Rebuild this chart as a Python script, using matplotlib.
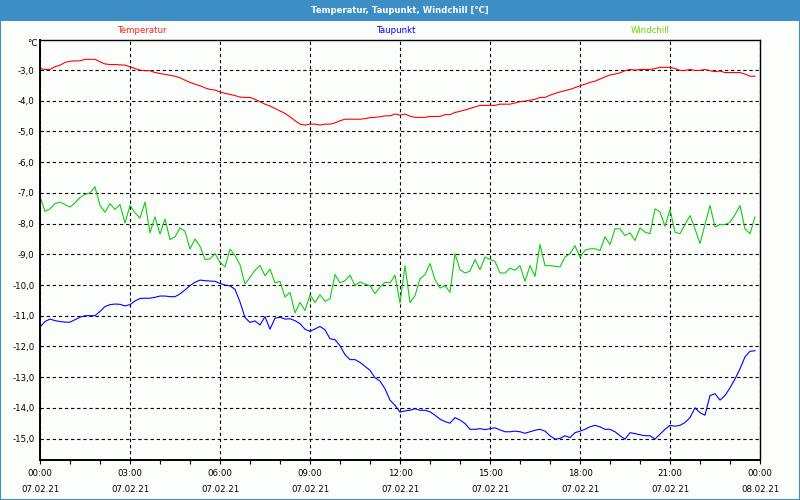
import numpy as np
import matplotlib
matplotlib.use("Agg")
import matplotlib.pyplot as plt
from matplotlib.patches import Rectangle

# Messwerte alle 10 Minuten, 07.02.21 00:00 bis 23:50
temperatur = [
    -2.95, -2.98, -2.98, -2.89, -2.84, -2.75, -2.71, -2.70, -2.70, -2.65, -2.65, -2.65,
    -2.73, -2.80, -2.82, -2.82, -2.83, -2.84, -2.89, -2.95, -3.00, -3.02, -3.02, -3.08,
    -3.11, -3.14, -3.17, -3.20, -3.25, -3.33, -3.40, -3.46, -3.51, -3.58, -3.63, -3.65,
    -3.71, -3.76, -3.79, -3.83, -3.88, -3.89, -3.89, -3.95, -4.03, -4.11, -4.17, -4.25,
    -4.33, -4.41, -4.52, -4.65, -4.76, -4.79, -4.76, -4.76, -4.79, -4.76, -4.76, -4.72,
    -4.65, -4.60, -4.60, -4.60, -4.60, -4.58, -4.55, -4.54, -4.52, -4.49, -4.49, -4.43,
    -4.47, -4.43, -4.50, -4.54, -4.54, -4.54, -4.51, -4.51, -4.51, -4.45, -4.45, -4.38,
    -4.34, -4.30, -4.25, -4.20, -4.15, -4.15, -4.15, -4.15, -4.11, -4.11, -4.11, -4.07,
    -4.03, -4.01, -3.98, -3.95, -3.89, -3.89, -3.82, -3.76, -3.71, -3.67, -3.63, -3.57,
    -3.51, -3.46, -3.40, -3.36, -3.29, -3.22, -3.16, -3.13, -3.09, -3.02, -2.98, -3.00,
    -2.98, -2.98, -2.98, -2.95, -2.91, -2.91, -2.91, -2.95, -3.01, -3.01, -2.98, -3.01,
    -3.01, -2.98, -3.02, -3.05, -3.03, -3.08, -3.08, -3.08, -3.08, -3.13, -3.20, -3.20,
]
taupunkt = [
    -11.37, -11.19, -11.11, -11.16, -11.19, -11.21, -11.21, -11.13, -11.05, -11.00, -11.00, -11.00,
    -10.86, -10.70, -10.64, -10.62, -10.63, -10.68, -10.64, -10.52, -10.44, -10.43, -10.43, -10.40,
    -10.36, -10.36, -10.38, -10.38, -10.29, -10.16, -10.02, -9.91, -9.84, -9.86, -9.87, -9.88,
    -9.95, -10.00, -10.03, -10.14, -10.55, -11.06, -11.22, -11.17, -11.30, -11.03, -11.44, -11.08,
    -11.05, -11.11, -11.10, -11.16, -11.26, -11.44, -11.51, -11.43, -11.35, -11.46, -11.75, -11.78,
    -11.98, -12.27, -12.43, -12.43, -12.52, -12.65, -12.78, -13.02, -13.13, -13.38, -13.75, -13.92,
    -14.14, -14.10, -14.08, -14.03, -14.08, -14.08, -14.13, -14.24, -14.37, -14.45, -14.50, -14.32,
    -14.40, -14.51, -14.70, -14.70, -14.68, -14.71, -14.68, -14.65, -14.72, -14.78, -14.78, -14.76,
    -14.78, -14.83, -14.78, -14.73, -14.70, -14.76, -14.91, -15.02, -15.00, -14.91, -14.97, -14.81,
    -14.76, -14.70, -14.62, -14.57, -14.62, -14.70, -14.70, -14.78, -14.91, -15.02, -14.81, -14.84,
    -14.88, -14.91, -14.91, -15.02, -14.86, -14.70, -14.57, -14.60, -14.57, -14.48, -14.32, -14.00,
    -14.16, -14.24, -13.60, -13.54, -13.75, -13.60, -13.35, -13.06, -12.73, -12.34, -12.16, -12.14,
]
windchill = [
    -7.11, -7.60, -7.52, -7.35, -7.30, -7.38, -7.46, -7.33, -7.15, -7.05, -7.00, -6.80,
    -7.41, -7.63, -7.35, -7.54, -7.38, -7.98, -7.41, -7.65, -7.82, -7.30, -8.30, -7.78,
    -8.34, -7.85, -8.52, -8.43, -8.14, -8.25, -8.83, -8.50, -8.74, -9.17, -9.15, -8.98,
    -9.26, -9.41, -8.83, -9.04, -9.34, -9.97, -9.75, -9.52, -9.36, -9.70, -9.48, -9.93,
    -9.88, -10.39, -10.24, -10.91, -10.57, -10.83, -10.32, -10.57, -10.32, -10.53, -10.45, -9.66,
    -9.93, -9.86, -9.68, -10.02, -9.90, -9.97, -10.02, -10.28, -10.07, -9.91, -9.93, -9.68,
    -10.59, -9.37, -10.57, -10.35, -9.80, -9.66, -9.30, -9.83, -10.10, -10.02, -10.24, -8.98,
    -9.50, -9.61, -9.55, -9.17, -9.50, -9.09, -9.17, -9.23, -9.61, -9.61, -9.45, -9.52,
    -9.37, -9.88, -9.37, -9.72, -8.68, -9.37, -9.37, -9.39, -9.41, -9.09, -8.98, -8.72,
    -9.09, -8.87, -8.82, -8.82, -8.88, -8.43, -8.68, -8.17, -8.17, -8.39, -8.30, -8.55,
    -8.14, -8.28, -8.33, -7.52, -7.62, -8.09, -7.54, -8.28, -8.33, -8.03, -7.74, -8.17,
    -8.65, -8.03, -7.41, -8.11, -8.03, -8.03, -7.96, -7.71, -7.41, -8.17, -8.33, -7.78,
]
stunden = np.arange(len(temperatur)) / 6.0

x_ticks = [0, 3, 6, 9, 12, 15, 18, 21, 24]
x_labels = ["00:00\n07.02.21", "03:00\n07.02.21", "06:00\n07.02.21", "09:00\n07.02.21",
            "12:00\n07.02.21", "15:00\n07.02.21", "18:00\n07.02.21", "21:00\n07.02.21",
            "00:00\n08.02.21"]
y_ticks = [-3, -4, -5, -6, -7, -8, -9, -10, -11, -12, -13, -14, -15]

blau = "#3c8ec5"
bg = "#fcfefc"

plt.rcParams['font.family'] = ['DejaVu Sans']

fig = plt.figure(figsize=(8, 5), dpi=100, facecolor=bg)
ax = fig.add_axes([40/800, 1-460/500, 720/800, 420/500])
ax.set_facecolor(bg)

ax.plot(stunden, temperatur, color="#ff0000", lw=0.8)
ax.plot(stunden, taupunkt, color="#0000ff", lw=0.8)
ax.plot(stunden, windchill, color="#11cc11", lw=0.8)

ax.set_xlim(0, 24)
ax.set_ylim(-15.70, -2.02)

ax.set_xticks(x_ticks)
ax.set_xticklabels(x_labels, fontsize=6.2, linespacing=1.95)
ax.set_xticks(np.arange(0, 25, 1), minor=True)
ax.tick_params(axis="x", which="both", direction="out", length=3, width=0.8, pad=3.5)
ax.set_yticks(y_ticks)
ax.set_yticklabels([f"{v:.1f}".replace(".", ",") for v in y_ticks], fontsize=6.2)
ax.tick_params(axis="y", length=0, pad=4)

ax.grid(True, which="major", color="black", lw=0.8, linestyle=(0, (3, 2.5)))
for s in ax.spines.values():
    s.set_linewidth(1.0)
ax.spines["left"].set_linewidth(1.4)
ax.spines["bottom"].set_linewidth(1.4)

# Titelleiste und Rahmen
fig.patches.append(Rectangle((0, 1-21/500), 1, 21/500, transform=fig.transFigure,
                             facecolor=blau, edgecolor="none", zorder=0))
fig.patches.append(Rectangle((0, 0), 1, 1, transform=fig.transFigure,
                             facecolor="none", edgecolor=blau, lw=1.5, zorder=0))
fig.text(0.5, 1-10.5/500, "Temperatur, Taupunkt, Windchill [°C]", color="white",
         fontsize=6.1, fontweight="bold", ha="center", va="center")

fig.text(37/800, 1-44/500, "°C", fontsize=6.2, ha="right", va="center")
fig.text(143/800, 1-30.5/500, "Temperatur", fontsize=6.2, color="#ff2020", ha="center", va="center")
fig.text(397/800, 1-30.5/500, "Taupunkt", fontsize=6.2, color="#0000ff", ha="center", va="center")
fig.text(650/800, 1-30.5/500, "Windchill", fontsize=6.2, color="#77cc11", ha="center", va="center")

fig.savefig("out.png", dpi=100, facecolor=bg)
